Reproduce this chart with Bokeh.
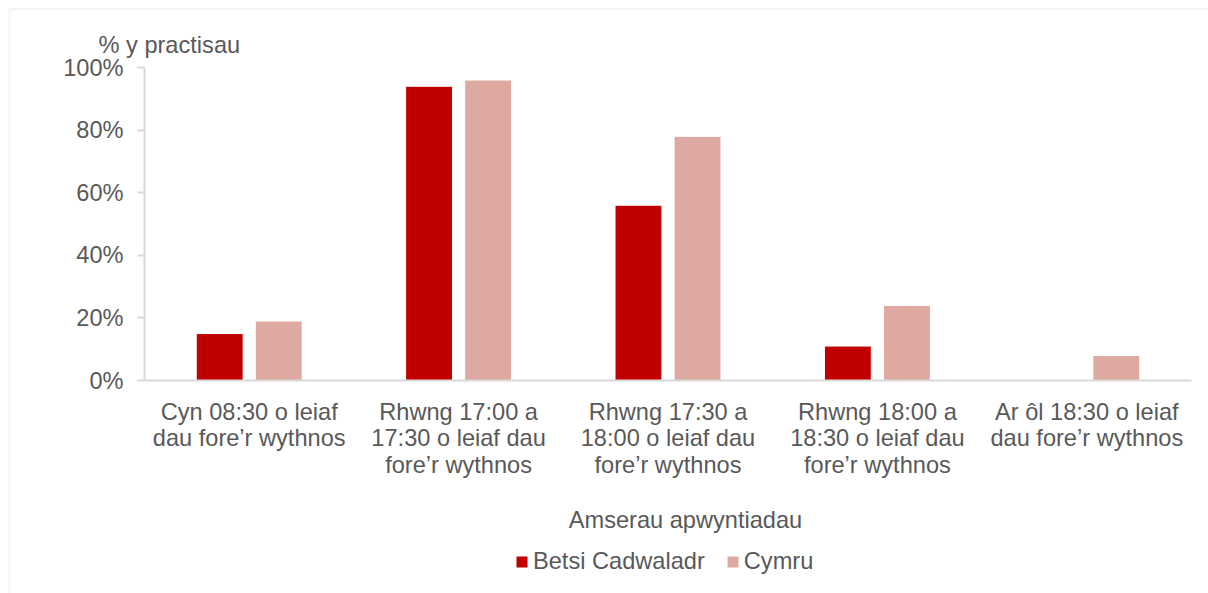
from bokeh.plotting import figure
from bokeh.models import (Range1d, NumeralTickFormatter, Legend, LegendItem, Label,
                          ColumnDataSource, FixedTicker, BoxAnnotation, LinearAxis)
from bokeh.transform import dodge
from bokeh.embed import file_html
from bokeh.resources import INLINE

categories = [
    "Cyn 08:30 o leiaf\ndau fore\u2019r wythnos",
    "Rhwng 17:00 a\n17:30 o leiaf dau\nfore\u2019r wythnos",
    "Rhwng 17:30 a\n18:00 o leiaf dau\nfore\u2019r wythnos",
    "Rhwng 18:00 a\n18:30 o leiaf dau\nfore\u2019r wythnos",
    "Ar \u00f4l 18:30 o leiaf\ndau fore\u2019r wythnos",
]
betsi = [0.15, 0.94, 0.56, 0.11, 0.0]
cymru = [0.19, 0.96, 0.78, 0.24, 0.08]
series_names = ["Betsi Cadwaladr", "Cymru"]
colors = ["#C00000", "#DDA9A0"]
y_ticks = [0, 0.2, 0.4, 0.6, 0.8, 1.0]
y_title = "% y practisau"
x_title = "Amserau apwyntiadau"

FONT = "Liberation Sans"
FS = "23.6px"
TXT = "#595959"
GRID = "#D9D9D9"

W, H = 1208, 593
# pixel geometry of the plotting area inside the canvas
FL, FR, FT, FB = 144, 1191, 67, 380
n = len(categories)
cw = (FR - FL) / n          # px per category
vh = (FB - FT)              # px per 100%

xc = [i + 0.5 for i in range(n)]
src = ColumnDataSource(dict(x=xc, betsi=betsi, cymru=cymru))

p = figure(width=W, height=H, output_backend="svg", toolbar_location=None,
           x_axis_location=None, y_axis_location=None,
           x_range=Range1d(-FL / cw, (W - FL) / cw),
           y_range=Range1d(-(H - FB) / vh, FB / vh))
p.min_border = 0
p.min_border_left = 0
p.min_border_right = 0
p.min_border_top = 0
p.min_border_bottom = 0
p.outline_line_color = None
p.xgrid.grid_line_color = None
p.ygrid.grid_line_color = None
p.background_fill_color = "white"
p.border_fill_color = "white"

# outer chart-area border (top and left visible)
p.add_layout(BoxAnnotation(left=-(FL - 9) / cw, right=(W - FL) / cw + 1,
                           top=(FB - 8.5) / vh, bottom=-(H - FB) / vh - 1,
                           fill_alpha=0, line_color=GRID, line_width=1.8))

r1 = p.vbar(x=dodge("x", -0.141), top="betsi", width=0.224, source=src,
            fill_color=colors[0], line_color="white", line_width=1)
r2 = p.vbar(x=dodge("x", 0.141), top="cymru", width=0.224, source=src,
            fill_color=colors[1], line_color="white", line_width=1)

yax = LinearAxis(fixed_location=0, bounds=(0, 1))
yax.ticker = FixedTicker(ticks=y_ticks)
yax.formatter = NumeralTickFormatter(format="0%")
yax.axis_line_color = GRID
yax.axis_line_width = 2
yax.major_tick_line_color = GRID
yax.major_tick_line_width = 2
yax.major_tick_out = 7
yax.major_tick_in = 0
yax.minor_tick_line_color = None
yax.major_label_text_font = FONT
yax.major_label_text_font_size = FS
yax.major_label_text_color = TXT
yax.major_label_standoff = 14
p.add_layout(yax, "left")

xax = LinearAxis(fixed_location=0, bounds=(0, n))
xax.ticker = FixedTicker(ticks=xc)
xax.major_label_overrides = {x: c for x, c in zip(xc, categories)}
xax.axis_line_color = GRID
xax.axis_line_width = 2
xax.major_tick_line_color = None
xax.major_tick_out = 0
xax.major_tick_in = 0
xax.minor_tick_line_color = None
xax.major_label_text_font = FONT
xax.major_label_text_font_size = FS
xax.major_label_text_color = TXT
xax.major_label_text_line_height = 1.03
xax.major_label_standoff = 18
p.add_layout(xax, "below")

p.add_layout(Label(x=(98 - FL) / cw, y=(FB - 44) / vh, text=y_title,
                   text_baseline="alphabetic", text_align="left",
                   text_font=FONT, text_font_size=FS, text_color=TXT))
p.add_layout(Label(x=(685 - FL) / cw, y=(FB - 519) / vh, text=x_title,
                   text_baseline="alphabetic", text_align="center",
                   text_font=FONT, text_font_size=FS, text_color=TXT))

legend = Legend(items=[LegendItem(label=series_names[0], renderers=[r1]),
                       LegendItem(label=series_names[1], renderers=[r2])],
                orientation="horizontal", location=(514, 18),
                label_text_font=FONT, label_text_font_size=FS, label_text_color=TXT,
                glyph_width=15, glyph_height=15, spacing=20, label_standoff=4,
                border_line_color=None, background_fill_alpha=0, margin=0, padding=0)
p.add_layout(legend)

open("out.html", "w").write(file_html(p, INLINE))
